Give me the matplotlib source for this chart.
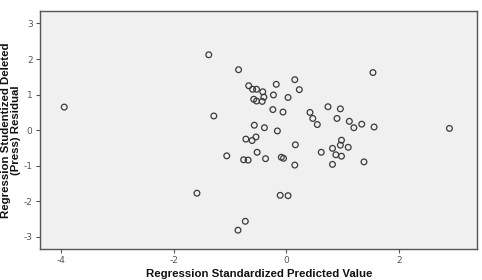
import matplotlib
matplotlib.use("Agg")
import matplotlib.pyplot as plt

pred = [-3.95, -1.38, -0.85, -1.29, -1.59, -1.06, -0.86, -0.73, -0.67, -0.60,
        -0.53, -0.42, -0.40, -0.58, -0.53, -0.43, -0.18, -0.23, -0.24, -0.06,
        0.03, 0.15, 0.23, -0.57, -0.39, -0.16, -0.72, -0.61, -0.54, -0.52,
        -0.76, -0.68, -0.37, -0.09, -0.05, 0.16, 0.15, -0.11, 0.03, 0.42,
        0.47, 0.55, 0.74, 0.96, 0.90, 1.12, 1.20, 1.34, 1.56, 1.54,
        2.90, 0.62, 0.82, 0.98, 0.96, 0.88, 0.98, 1.10, 0.82, 1.38]
resid = [0.65, 2.12, 1.70, 0.40, -1.77, -0.72, -2.81, -2.56, 1.25, 1.15,
         1.15, 1.08, 0.93, 0.87, 0.82, 0.81, 1.29, 0.99, 0.58, 0.51,
         0.92, 1.42, 1.14, 0.14, 0.07, -0.02, -0.25, -0.29, -0.19, -0.62,
         -0.83, -0.84, -0.80, -0.76, -0.79, -0.41, -0.98, -1.83, -1.84, 0.50,
         0.33, 0.16, 0.66, 0.60, 0.33, 0.25, 0.07, 0.17, 0.09, 1.62,
         0.05, -0.62, -0.51, -0.28, -0.42, -0.69, -0.73, -0.48, -0.96, -0.89]
xticks = [-4, -2, 0, 2]
yticks = [-3, -2, -1, 0, 1, 2, 3]

W, H = 482, 280
fig = plt.figure(figsize=(W / 100, H / 100), dpi=100)
fig.patch.set_facecolor("white")
ax = fig.add_axes([39.5 / W, 1 - 248.7 / H, (477 - 39.5) / W, (248.7 - 11) / H])
ax.set_facecolor("#f0f0f0")
ax.scatter(pred, resid, s=17, facecolors="none", edgecolors="#3a3a3a", linewidths=0.9, zorder=3)
ax.set_xlim(-4.39, 3.39)
ax.set_ylim(-3.33, 3.35)
ax.set_xticks(xticks)
ax.set_yticks(yticks)
ax.set_xticklabels([str(t) for t in xticks])
ax.set_yticklabels([str(t) for t in yticks])
ax.tick_params(axis="both", direction="out", length=3, width=0.8, color="#555555",
               labelsize=6.5, labelcolor="#555555", pad=2)
ax.tick_params(top=False, right=False)
for sp in ax.spines.values():
    sp.set_color("#555555")
    sp.set_linewidth(1.0)

font = ["Liberation Sans", "DejaVu Sans"]
fig.text(11 / W, 1 - 130 / H, "Regression Studentized Deleted\n(Press) Residual",
         rotation=90, ha="center", va="center", fontsize=8.2, fontweight="bold",
         family=font, color="#111111", linespacing=1.0)
fig.text(259 / W, 1 - 277 / H, "Regression Standardized Predicted Value",
         ha="center", va="baseline", fontsize=8.2, fontweight="bold", family=font,
         color="#111111")

fig.savefig("out.png", dpi=100)
